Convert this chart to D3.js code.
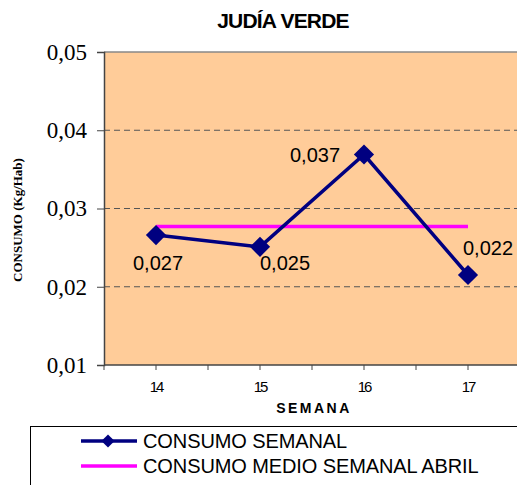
<!DOCTYPE html>
<html>
<head>
<meta charset="utf-8">
<script src="https://cdn.jsdelivr.net/npm/d3@7"></script>
<style>
  body { margin: 0; background: #fff; }
</style>
</head>
<body>
<script>
// Data
var semanas = ["14", "15", "16", "17"];
var consumoSemanal = [0.0266, 0.0251, 0.0369, 0.0215];
var etiquetas = ["0,027", "0,025", "0,037", "0,022"];
var consumoMedioAbril = 0.0277;
var yTicks = [0.01, 0.02, 0.03, 0.04, 0.05];

var WIDTH = 517, HEIGHT = 485;
var MARGINS = { top: 52, left: 104, bottom: 365, right: 520 };
var SANS = "'Liberation Sans', Arial, sans-serif";
var SERIF = "'Liberation Serif', 'Times New Roman', 'DejaVu Serif', serif";

var svg = d3.select("body").append("svg")
    .attr("width", WIDTH)
    .attr("height", HEIGHT);

var xScale = d3.scaleBand().domain(semanas).range([MARGINS.left, MARGINS.right]);
var yScale = d3.scaleLinear().domain([0.01, 0.05]).range([MARGINS.bottom, MARGINS.top]);
var cx = function(d) { return xScale(d) + xScale.bandwidth() / 2; };

// plot background
svg.append("rect")
    .attr("x", MARGINS.left).attr("y", MARGINS.top)
    .attr("width", MARGINS.right - MARGINS.left)
    .attr("height", MARGINS.bottom - MARGINS.top)
    .attr("fill", "#FFCC99");

// gridlines
svg.selectAll(".grid").data(yTicks.slice(1, 4)).enter().append("line")
    .attr("x1", MARGINS.left).attr("x2", MARGINS.right)
    .attr("y1", yScale).attr("y2", yScale)
    .attr("stroke", "#555").attr("stroke-width", 1)
    .attr("stroke-dasharray", "6,4");

// top border
svg.append("line")
    .attr("x1", MARGINS.left).attr("x2", MARGINS.right)
    .attr("y1", yScale(0.05)).attr("y2", yScale(0.05))
    .attr("stroke", "#888").attr("stroke-width", 1.5);

// Y axis
var yAxis = d3.axisLeft(yScale).tickValues(yTicks).tickSize(7).tickPadding(10)
    .tickFormat(function(d) { return d3.format(".2f")(d).replace(".", ","); });
var gy = svg.append("g").attr("transform", "translate(" + MARGINS.left + ",0)").call(yAxis);
gy.select(".domain").attr("stroke", "#444").attr("stroke-width", 1.5);
gy.selectAll("line").attr("stroke", "#444");
gy.selectAll("text").attr("font-family", SERIF)
    .attr("font-size", 23).attr("fill", "#000");

// X axis: ticks at band edges and centres
var xTickPos = [];
for (var i = 0; i <= semanas.length * 2; i++) xTickPos.push(MARGINS.left + i * xScale.bandwidth() / 2);
var gx = svg.append("g");
gx.append("line")
    .attr("x1", MARGINS.left).attr("x2", MARGINS.right)
    .attr("y1", MARGINS.bottom).attr("y2", MARGINS.bottom)
    .attr("stroke", "#444").attr("stroke-width", 1.5);
gx.selectAll(".xt").data(xTickPos).enter().append("line")
    .attr("x1", function(d) { return d; }).attr("x2", function(d) { return d; })
    .attr("y1", MARGINS.bottom).attr("y2", MARGINS.bottom + 5)
    .attr("stroke", "#444");
gx.selectAll(".xl").data(semanas).enter().append("text")
    .attr("x", cx).attr("y", 392)
    .attr("text-anchor", "middle")
    .attr("font-family", SANS)
    .attr("font-size", 15).attr("letter-spacing", -2)
    .text(function(d) { return d; });

// axis titles
svg.append("text")
    .attr("x", 314).attr("y", 413)
    .attr("text-anchor", "middle")
    .attr("font-family", SANS)
    .attr("font-size", 14).attr("font-weight", "bold").attr("letter-spacing", 2.5)
    .text("SEMANA");

svg.append("text")
    .attr("transform", "translate(22,220) rotate(-90)")
    .attr("text-anchor", "middle")
    .attr("font-family", SERIF)
    .attr("font-size", 13).attr("font-weight", "bold")
    .text("CONSUMO  (Kg/Hab)");

// title
svg.append("text")
    .attr("x", 283).attr("y", 28)
    .attr("text-anchor", "middle")
    .attr("font-family", SANS)
    .attr("font-size", 21).attr("font-weight", "bold").attr("letter-spacing", -0.8)
    .text("JUDÍA VERDE");

// average line
svg.append("line")
    .attr("x1", cx(semanas[0])).attr("x2", cx(semanas[semanas.length - 1]))
    .attr("y1", yScale(consumoMedioAbril)).attr("y2", yScale(consumoMedioAbril))
    .attr("stroke", "#FF00FF").attr("stroke-width", 3.5);

// weekly line
var lineGen = d3.line()
    .x(function(d, i) { return cx(semanas[i]); })
    .y(function(d) { return yScale(d); });
svg.append("path")
    .attr("d", lineGen(consumoSemanal))
    .attr("fill", "none").attr("stroke", "#000080").attr("stroke-width", 3.5);

var diamond = d3.symbol().type(d3.symbolDiamond2).size(260);
svg.selectAll(".mk").data(consumoSemanal).enter().append("path")
    .attr("d", diamond)
    .attr("transform", function(d, i) { return "translate(" + cx(semanas[i]) + "," + yScale(d) + ")"; })
    .attr("fill", "#000080");

// data labels
var labelOffsets = [[2, 35], [25, 23], [-49, 7], [20, -20]];
svg.selectAll(".dl").data(consumoSemanal).enter().append("text")
    .attr("x", function(d, i) { return cx(semanas[i]) + labelOffsets[i][0]; })
    .attr("y", function(d, i) { return yScale(d) + labelOffsets[i][1]; })
    .attr("text-anchor", "middle")
    .attr("font-family", SANS)
    .attr("font-size", 20)
    .text(function(d, i) { return etiquetas[i]; });

// legend
var legend = svg.append("g");
legend.append("rect")
    .attr("x", 30.5).attr("y", 426.5).attr("width", 520).attr("height", 80)
    .attr("fill", "#fff").attr("stroke", "#000").attr("stroke-width", 1);
var legendItems = [
    { name: "CONSUMO SEMANAL", color: "#000080", marker: true },
    { name: "CONSUMO MEDIO SEMANAL ABRIL", color: "#FF00FF", marker: false }
];
legendItems.forEach(function(item, i) {
    var y = 441 + i * 25;
    legend.append("line")
        .attr("x1", 81).attr("x2", 137).attr("y1", y).attr("y2", y)
        .attr("stroke", item.color).attr("stroke-width", 3.5);
    if (item.marker) {
        legend.append("path")
            .attr("d", d3.symbol().type(d3.symbolDiamond2).size(110))
            .attr("transform", "translate(108," + y + ")")
            .attr("fill", item.color);
    }
    legend.append("text")
        .attr("x", 143).attr("y", y + 7)
        .attr("font-family", SANS)
        .attr("font-size", 20).attr("letter-spacing", -0.1)
        .text(item.name);
});
</script>
</body>
</html>
